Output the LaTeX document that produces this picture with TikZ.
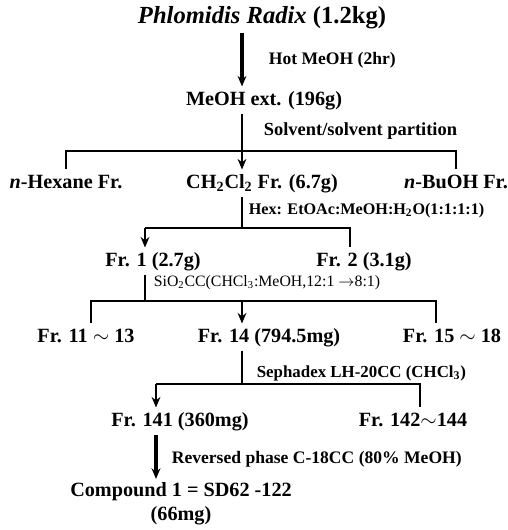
\documentclass[tikz,border=0pt]{standalone}
\usepackage{fontspec}
\setmainfont{Liberation Serif}
\usetikzlibrary{arrows.meta}
\begin{document}
\begin{tikzpicture}[>={Stealth[length=6pt,width=5pt]}, x=0.02cm, y=-0.02cm,
  every node/.style={font=\bfseries\fontsize{11.5}{13.6}\selectfont, inner sep=2pt},
  frac/.style={text height=8.5pt, text depth=2.5pt},
  lab/.style={anchor=west, font=\bfseries\fontsize{10.5}{12}\selectfont},
  bus/.style={line width=1.1pt},
  thin/.style={line width=0.6pt},
  heavy/.style={line width=1.8pt}]
\useasboundingbox (0,0) rectangle (507,530);
% materials
\node (rad) at (262,18) {\fontsize{14}{16}\selectfont\textit{Phlomidis Radix} (1.2kg)};
\node[frac] (meoh) at (264,100) {MeOH ext. (196g)};
\node[frac] (hex) at (66,183) {\textit{n}-Hexane Fr.};
\node[frac] (dcm) at (262,183) {CH\textsubscript{2}Cl\textsubscript{2} Fr. (6.7g)};
\node[frac] (buoh) at (456,183) {\textit{n}-BuOH Fr.};
\node[frac] (fr1) at (153,261) {Fr. 1 (2.7g)};
\node[frac] (fr2) at (364,261) {Fr. 2 (3.1g)};
\node[frac] (fr11) at (86,337) {Fr. 11 $\sim$ 13};
\node[frac] (fr14) at (269,337) {Fr. 14 (794.5mg)};
\node[frac] (fr15) at (452,337) {Fr. 15 $\sim$ 18};
\node[frac] (fr141) at (180,421) {Fr. 141 (360mg)};
\node[frac] (fr142) at (413,421) {Fr. 142$\sim$144};
\node[align=center] (cpd) at (181,504) {Compound 1 = SD62 -122\\(66mg)};
% conditions
\node[lab, font=\bfseries\fontsize{10}{12}\selectfont] (hot) at (265,60) {Hot MeOH (2hr)};
\node[lab] (part) at (260,131) {Solvent/solvent partition};
\node[lab, font=\bfseries\fontsize{9.2}{11}\selectfont] (hemw) at (245,211) {Hex: EtOAc:MeOH:H\textsubscript{2}O(1:1:1:1)};
\node[lab, font=\fontsize{9}{11}\selectfont] (sio) at (150,283) {SiO\textsubscript{2}CC(CHCl\textsubscript{3}:MeOH,12:1 $\rightarrow$8:1)};
\node[lab, font=\bfseries\fontsize{9.6}{11}\selectfont] (seph) at (253,373) {Sephadex LH-20CC (CHCl\textsubscript{3})};
\node[lab, font=\bfseries\fontsize{10}{12}\selectfont] (rp) at (168,459) {Reversed phase C-18CC (80\% MeOH)};
% bus points
\coordinate (c1) at (242,151);
\coordinate (c2) at (242,228);
\coordinate (c2l) at (145,228);
\coordinate (c2r) at (350,228);
\coordinate (c3) at (145,301);
\coordinate (c3l) at (91,301);
\coordinate (c3m) at (242,301);
\coordinate (c3r) at (436,301);
\coordinate (c4) at (242,384);
\coordinate (c4l) at (156,384);
\coordinate (c4r) at (420,384);
% connectors
\draw[heavy,->] (rad.south -| c1) -- (meoh.north -| c1);
\draw[thin,->] (meoh.south -| c1) -- (dcm.north -| c1);
\draw[bus] (hex.north) -- (hex.north |- c1) -- (buoh.north |- c1) -- (buoh.north);
\draw[thin] (dcm.south -| c2) -- (c2);
\draw[bus,->] (c2l) -- (fr1.north -| c2l);
\draw[bus] (c2l) -- (c2r) -- (fr2.north -| c2r);
\draw[thin] (fr1.south -| c3) -- (c3);
\draw[bus] (fr11.north -| c3l) -- (c3l) -- (c3r) -- (fr15.north -| c3r);
\draw[bus,->] (c3m) -- (fr14.north -| c3m);
\draw[thin] (fr14.south -| c4) -- (c4);
\draw[bus,->] (c4l) -- (fr141.north -| c4l);
\draw[bus] (c4l) -- (c4r) -- (fr142.north -| c4r);
\draw[heavy,->] (fr141.south -| c4l) -- (cpd.north -| c4l);
\end{tikzpicture}
\end{document}
